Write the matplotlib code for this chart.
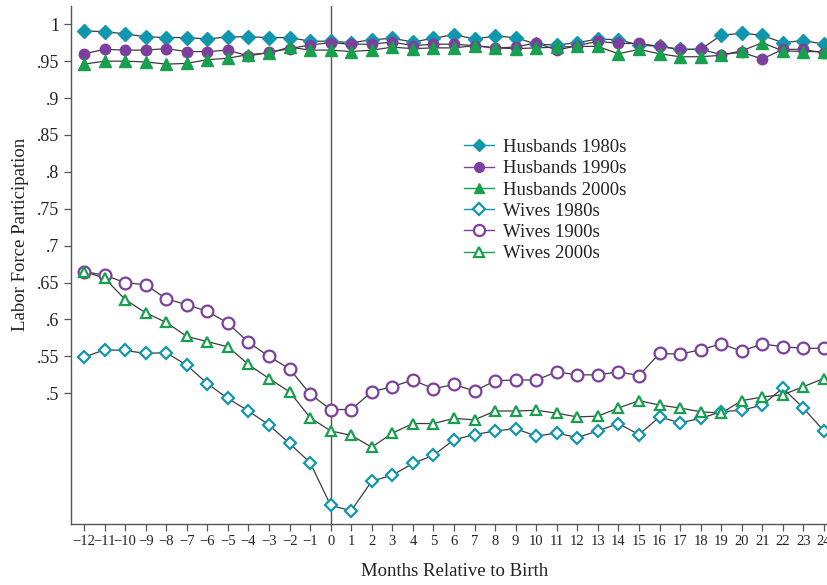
import matplotlib
matplotlib.use("Agg")
import matplotlib.pyplot as plt
from matplotlib.lines import Line2D

months = list(range(-12, 25))

husbands_1980s = [0.991, 0.990, 0.987, 0.983, 0.982, 0.982, 0.980, 0.983, 0.983, 0.982, 0.982, 0.977,
                  0.977, 0.975, 0.979, 0.981, 0.976, 0.981, 0.986, 0.980, 0.984, 0.982, 0.973, 0.972,
                  0.975, 0.980, 0.979, 0.972, 0.970, 0.966, 0.966, 0.985, 0.988, 0.985, 0.975, 0.978, 0.973]
husbands_1990s = [0.960, 0.966, 0.965, 0.965, 0.967, 0.963, 0.963, 0.965, 0.957, 0.962, 0.967, 0.972,
                  0.975, 0.973, 0.973, 0.976, 0.971, 0.973, 0.973, 0.971, 0.968, 0.969, 0.975, 0.965,
                  0.971, 0.977, 0.974, 0.974, 0.970, 0.966, 0.966, 0.959, 0.962, 0.953, 0.966, 0.966, 0.961]
husbands_2000s = [0.946, 0.950, 0.950, 0.949, 0.946, 0.947, 0.952, 0.954, 0.959, 0.961, 0.969, 0.965,
                  0.965, 0.963, 0.965, 0.969, 0.967, 0.968, 0.968, 0.971, 0.968, 0.967, 0.968, 0.969,
                  0.970, 0.970, 0.960, 0.966, 0.960, 0.956, 0.956, 0.958, 0.964, 0.975, 0.964, 0.963, 0.963]
wives_1980s = [0.549, 0.559, 0.558, 0.554, 0.555, 0.538, 0.513, 0.493, 0.476, 0.457, 0.432, 0.406,
               0.348, 0.341, 0.381, 0.389, 0.405, 0.416, 0.437, 0.444, 0.449, 0.452, 0.442, 0.446,
               0.440, 0.449, 0.459, 0.444, 0.468, 0.460, 0.466, 0.475, 0.477, 0.484, 0.507, 0.480, 0.449]
wives_1990s = [0.665, 0.660, 0.650, 0.647, 0.628, 0.620, 0.611, 0.595, 0.569, 0.550, 0.533, 0.499,
               0.478, 0.478, 0.502, 0.509, 0.518, 0.506, 0.512, 0.503, 0.517, 0.518, 0.518, 0.529,
               0.525, 0.525, 0.529, 0.524, 0.554, 0.553, 0.559, 0.567, 0.557, 0.567, 0.563, 0.561, 0.561]
wives_2000s = [0.665, 0.656, 0.627, 0.609, 0.596, 0.577, 0.570, 0.563, 0.539, 0.520, 0.502, 0.467,
               0.449, 0.443, 0.427, 0.446, 0.459, 0.459, 0.466, 0.464, 0.476, 0.476, 0.477, 0.473,
               0.468, 0.469, 0.480, 0.490, 0.484, 0.480, 0.475, 0.473, 0.490, 0.495, 0.498, 0.509, 0.520]

labels = ["Husbands 1980s", "Husbands 1990s", "Husbands 2000s",
          "Wives 1980s", "Wives 1900s", "Wives 2000s"]
y_ticks = [0.5, 0.55, 0.6, 0.65, 0.7, 0.75, 0.8, 0.85, 0.9, 0.95, 1.0]
y_ticklabels = [".5", ".55", ".6", ".65", ".7", ".75", ".8", ".85", ".9", ".95", "1"]

TEAL = "#1197ad"
PURPLE = "#7d3f9e"
GREEN = "#17a04d"
LINE = "#3c3c3c"
AX = "#555555"

plt.rcParams['font.family'] = ['Liberation Serif', 'DejaVu Serif']

fig = plt.figure(figsize=(8.27, 5.85), dpi=100)
ax = fig.add_axes([0.0855, 0.1038, 0.9145, 0.886])

series = [
    (husbands_1980s, "D", TEAL, True, 7),
    (husbands_1990s, "o", PURPLE, True, 7.5),
    (husbands_2000s, "^", GREEN, True, 8),
    (wives_1980s, "D", TEAL, False, 6.5),
    (wives_1990s, "o", PURPLE, False, 8.5),
    (wives_2000s, "^", GREEN, False, 7.5),
]

ax.axvline(0, color=AX, lw=1.0, zorder=1)

handles = []
for (vals, mk, col, filled, ms), lab in zip(series, labels):
    ax.plot(months, vals, color=LINE, lw=0.9, zorder=2)
    ax.plot(months, vals, linestyle="none", marker=mk, ms=ms,
            markerfacecolor=col if filled else "white",
            markeredgecolor=col, markeredgewidth=1.0 if filled else 1.6, zorder=3)
    handles.append(Line2D([0], [0], color=col, lw=1.0, marker=mk, ms=ms - 0.5,
                          markerfacecolor=col if filled else "white",
                          markeredgecolor=col, markeredgewidth=1.0 if filled else 1.6))

ax.set_xlim(-12.65, 24.15)
ax.set_ylim(0.3225, 1.0248)
ax.set_xticks(months)
ax.set_xticklabels([str(m).replace("-", "\u2212") for m in months], fontsize=10.5)
ax.set_yticks(y_ticks)
ax.set_yticklabels(y_ticklabels, fontsize=13)

for side in ["top", "right"]:
    ax.spines[side].set_visible(False)
for side in ["left", "bottom"]:
    ax.spines[side].set_color(AX)
    ax.spines[side].set_linewidth(1.0)
ax.tick_params(axis="both", direction="out", length=5, width=0.9, color=AX, labelcolor="#222222")
ax.tick_params(axis="x", pad=3)
ax.tick_params(axis="y", pad=3)

ax.set_xlabel("Months Relative to Birth", fontsize=13.5, color="#222222", va="top")
ax.xaxis.set_label_coords(0.508, -0.075)
ax.set_ylabel("Labor Force Participation", fontsize=13.5, color="#222222", va="center")
ax.yaxis.set_label_coords(-0.067, 0.56)

leg = ax.legend(handles, labels, loc="upper left", bbox_to_anchor=(0.51, 0.758),
                frameon=False, fontsize=13.5, handlelength=1.6, handletextpad=0.5,
                labelspacing=0.22, borderaxespad=0)
for t in leg.get_texts():
    t.set_color("#222222")

fig.savefig("out.png", dpi=100)
